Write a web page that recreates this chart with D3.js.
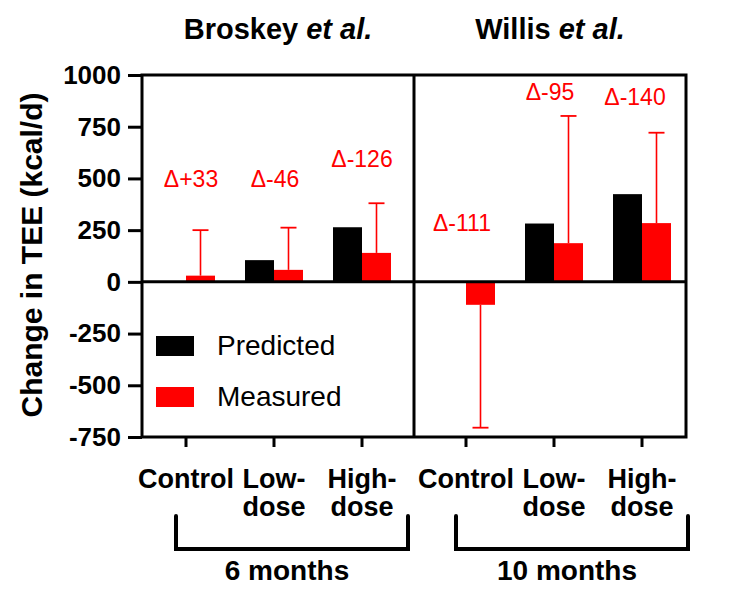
<!DOCTYPE html>
<html><head><meta charset="utf-8">
<script src="https://cdn.jsdelivr.net/npm/d3@7"></script>
<style>body{margin:0;background:#fff}svg text{font-family:"Liberation Sans",Arial,Helvetica,sans-serif}</style>
</head><body>
<svg id="chart" width="754" height="604"></svg>
<script>
// ---------- data ----------
const groups = ["Control", "Low-dose", "High-dose"];
const groupLines = [["Control"], ["Low-", "dose"], ["High-", "dose"]];
const studies = ["Broskey", "Willis"];
const durations = ["6 months", "10 months"];
const seriesNames = ["Predicted", "Measured"];
const predictedBroskey = [0, 105, 264];
const measuredBroskey = [30, 58, 140];
const errorEndBroskey = [250, 262, 380];
const predictedWillis = [0, 282, 424];
const measuredWillis = [-111, 187, 284];
const errorEndWillis = [-705, 802, 721];
const deltaBroskey = ["Δ+33", "Δ-46", "Δ-126"];
const deltaWillis = ["Δ-111", "Δ-95", "Δ-140"];
const deltaYBroskey = [460, 459, 556];
const deltaYWillis = [244, 880, 856];
const yTicks = [-750, -500, -250, 0, 250, 500, 750, 1000];

// ---------- layout ----------
const svg = d3.select("#chart");
const pTop = 75, pBottom = 437, pLeft = 142, pMid = 414, pRight = 686;
const RED = "#ff0000";
const y = d3.scaleLinear().domain([-750, 1000]).range([pBottom, pTop]);
const panelData = [
  {study: studies[0], dur: durations[0], pred: predictedBroskey, meas: measuredBroskey, err: errorEndBroskey,
   delta: deltaBroskey, dy: deltaYBroskey, x0: pLeft, x1: pMid, centers: [186, 362], dx: [5, 1, 0]},
  {study: studies[1], dur: durations[1], pred: predictedWillis, meas: measuredWillis, err: errorEndWillis,
   delta: deltaWillis, dy: deltaYWillis, x0: pMid, x1: pRight, centers: [466, 642], dx: [-4, -4, -7]}
];
const sub = d3.scaleBand().domain(seriesNames).range([-29, 29]);
const color = d3.scaleOrdinal().domain(seriesNames).range(["#000000", RED]);

// y axis
const yAxis = svg.append("g").attr("transform", `translate(${pLeft},0)`)
  .call(d3.axisLeft(y).tickValues(yTicks).tickSize(14).tickPadding(7).tickFormat(d => String(d)));
yAxis.select(".domain").remove();
yAxis.selectAll(".tick line").attr("stroke", "#000").attr("stroke-width", 3);
yAxis.selectAll(".tick text").attr("fill", "#000").style("font-size", "26px").style("font-weight", "bold")
  .style("font-family", '"Liberation Sans",Arial,sans-serif');

svg.append("text").attr("transform", `translate(42,${(pTop + pBottom) / 2 - 1}) rotate(-90)`)
  .attr("text-anchor", "middle").style("font-size", "30px").style("font-weight", "bold")
  .text("Change in TEE (kcal/d)");

panelData.forEach(p => {
  const gx = d3.scalePoint().domain(groups).range(p.centers);
  const g = svg.append("g");
  groups.forEach((grp, i) => {
    [p.pred[i], p.meas[i]].forEach((v, k) => {
      const s = seriesNames[k];
      g.append("rect")
        .attr("x", gx(grp) + sub(s)).attr("width", sub.bandwidth())
        .attr("y", y(Math.max(0, v))).attr("height", Math.abs(y(v) - y(0)))
        .attr("fill", color(s));
    });
    const cx = gx(grp) + sub("Measured") + sub.bandwidth() / 2;
    g.append("line").attr("x1", cx).attr("x2", cx).attr("y1", y(p.meas[i])).attr("y2", y(p.err[i]))
      .attr("stroke", RED).attr("stroke-width", 1.6);
    g.append("line").attr("x1", cx - 8).attr("x2", cx + 8).attr("y1", y(p.err[i])).attr("y2", y(p.err[i]))
      .attr("stroke", RED).attr("stroke-width", 1.8);
    g.append("text").attr("x", gx(grp) + p.dx[i]).attr("y", y(p.dy[i]))
      .attr("text-anchor", "middle").attr("fill", RED).style("font-size", "23px").text(p.delta[i]);
    g.append("line").attr("x1", gx(grp)).attr("x2", gx(grp)).attr("y1", pBottom).attr("y2", pBottom + 10)
      .attr("stroke", "#000").attr("stroke-width", 3);
    groupLines[i].forEach((ln, j) => {
      g.append("text").attr("x", gx(grp)).attr("y", 488 + j * 28).attr("text-anchor", "middle")
        .style("font-size", "27px").style("font-weight", "bold").text(ln);
    });
  });
  const t = svg.append("text").attr("x", (p.x0 + p.x1) / 2).attr("y", 39).attr("text-anchor", "middle")
    .style("font-size", "29px").style("font-weight", "bold");
  t.append("tspan").text(p.study + " ");
  t.append("tspan").style("font-style", "italic").text("et al.");
  const bx0 = gx(groups[0]) - 10, bx1 = gx(groups[2]) + 46;
  svg.append("path").attr("d", `M${bx0},516V549H${bx1}V516`).attr("fill", "none")
    .attr("stroke", "#000").attr("stroke-width", 4).attr("stroke-linecap", "round");
  svg.append("text").attr("x", (bx0 + bx1) / 2 - 5).attr("y", 580).attr("text-anchor", "middle")
    .style("font-size", "28px").style("font-weight", "bold").text(p.dur);
});

svg.append("rect").attr("x", pLeft).attr("y", pTop).attr("width", pRight - pLeft).attr("height", pBottom - pTop)
  .attr("fill", "none").attr("stroke", "#000").attr("stroke-width", 3);
svg.append("line").attr("x1", pMid).attr("x2", pMid).attr("y1", pTop).attr("y2", pBottom)
  .attr("stroke", "#000").attr("stroke-width", 3);
svg.append("line").attr("x1", pLeft).attr("x2", pRight).attr("y1", y(0)).attr("y2", y(0))
  .attr("stroke", "#000").attr("stroke-width", 3);

const leg = svg.append("g");
seriesNames.forEach((s, i) => {
  leg.append("rect").attr("x", 156).attr("y", 336 + i * 51).attr("width", 38).attr("height", 20).attr("fill", color(s));
  leg.append("text").attr("x", 217).attr("y", 355 + i * 51).style("font-size", "28px").text(s);
});
</script>
</body></html>
